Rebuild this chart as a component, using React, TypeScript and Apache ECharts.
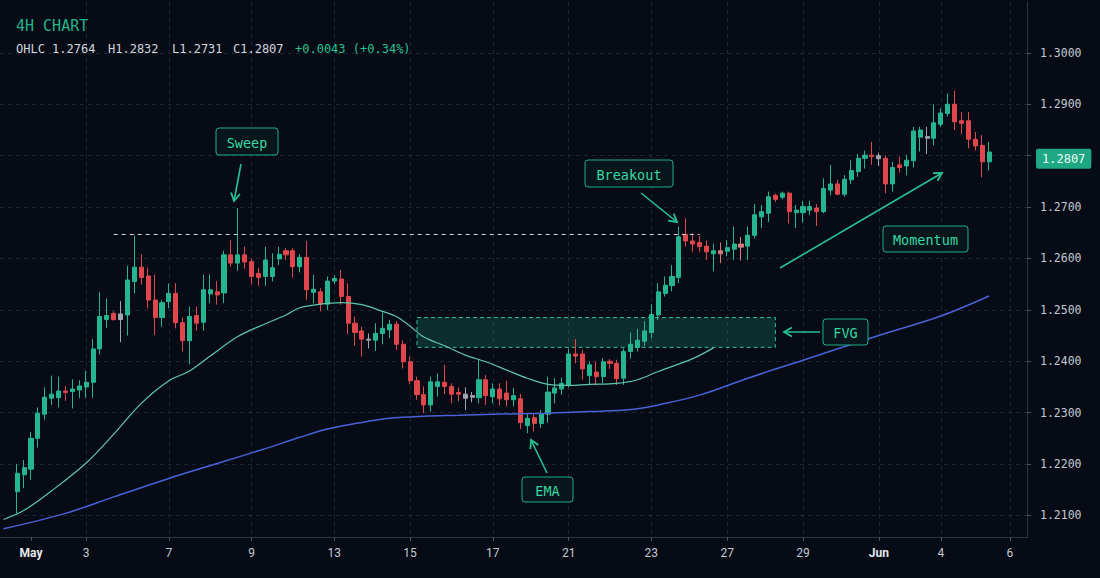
import React, { useEffect, useRef } from "react";
import * as echarts from "echarts";

// ---------- DATA ----------
const opens = [
  1.2146, 1.2179, 1.2190, 1.2250, 1.2297, 1.2328, 1.2329, 1.2342, 1.2341, 1.2344,
  1.2350, 1.2359, 1.2424, 1.2481, 1.2493, 1.2481, 1.2490, 1.2555, 1.2583, 1.2566,
  1.2519, 1.2485, 1.2516, 1.2532, 1.2475, 1.2440, 1.2489, 1.2476, 1.2531, 1.2535,
  1.2533, 1.2607, 1.2591, 1.2607, 1.2594, 1.2571, 1.2565, 1.2565, 1.2599, 1.2615,
  1.2615, 1.2584, 1.2602, 1.2534, 1.2535, 1.2511, 1.2556, 1.2560, 1.2526, 1.2474,
  1.2459, 1.2443, 1.2441, 1.2454, 1.2461, 1.2472, 1.2433, 1.2399, 1.2362, 1.2335,
  1.2315, 1.2351, 1.2359, 1.2351, 1.2339, 1.2336, 1.2330, 1.2329, 1.2364, 1.2331,
  1.2346, 1.2338, 1.2325, 1.2327, 1.2275, 1.2290, 1.2279, 1.2297, 1.2338, 1.2346,
  1.2353, 1.2414, 1.2414, 1.2372, 1.2379, 1.2370, 1.2400, 1.2396, 1.2367, 1.2419,
  1.2427, 1.2439, 1.2456, 1.2490, 1.2532, 1.2547, 1.2563, 1.2647, 1.2634, 1.2631,
  1.2624, 1.2609, 1.2615, 1.2614, 1.2618, 1.2628, 1.2624, 1.2645, 1.2681, 1.2688,
  1.2723, 1.2719, 1.2727, 1.2689, 1.2689, 1.2694, 1.2698, 1.2691, 1.2733, 1.2745,
  1.2725, 1.2753, 1.2769, 1.2795, 1.2801, 1.2800, 1.2795, 1.2745, 1.2782, 1.2780,
  1.2790, 1.2836, 1.2837, 1.2834, 1.2861, 1.2882, 1.2900, 1.2868, 1.2868, 1.2832,
  1.2820, 1.2788,
];
const closes = [
  1.2182, 1.2193, 1.2250, 1.2299, 1.2330, 1.2336, 1.2342, 1.2339, 1.2346, 1.2352,
  1.2359, 1.2424, 1.2487, 1.2489, 1.2481, 1.2492, 1.2558, 1.2583, 1.2563, 1.2519,
  1.2485, 1.2514, 1.2532, 1.2475, 1.2440, 1.2487, 1.2474, 1.2539, 1.2539, 1.2529,
  1.2607, 1.2591, 1.2607, 1.2593, 1.2565, 1.2563, 1.2597, 1.2582, 1.2608, 1.2607,
  1.2584, 1.2602, 1.2539, 1.2540, 1.2511, 1.2556, 1.2561, 1.2526, 1.2474, 1.2456,
  1.2443, 1.2441, 1.2454, 1.2464, 1.2472, 1.2433, 1.2399, 1.2362, 1.2335, 1.2315,
  1.2360, 1.2360, 1.2351, 1.2336, 1.2336, 1.2328, 1.2333, 1.2364, 1.2333, 1.2346,
  1.2327, 1.2325, 1.2333, 1.2281, 1.2289, 1.2279, 1.2297, 1.2340, 1.2348, 1.2357,
  1.2414, 1.2410, 1.2385, 1.2393, 1.2370, 1.2399, 1.2396, 1.2366, 1.2419, 1.2433,
  1.2441, 1.2459, 1.2491, 1.2535, 1.2548, 1.2565, 1.2642, 1.2634, 1.2628, 1.2623,
  1.2613, 1.2615, 1.2609, 1.2621, 1.2628, 1.2622, 1.2645, 1.2685, 1.2691, 1.2720,
  1.2715, 1.2727, 1.2691, 1.2694, 1.2701, 1.2701, 1.2691, 1.2736, 1.2745, 1.2725,
  1.2754, 1.2771, 1.2795, 1.2801, 1.2798, 1.2794, 1.2745, 1.2777, 1.2777, 1.2791,
  1.2848, 1.2850, 1.2834, 1.2864, 1.2883, 1.2900, 1.2866, 1.2863, 1.2832, 1.2819,
  1.2788, 1.2807,
];
const highs = [
  1.2200, 1.2208, 1.2262, 1.2310, 1.2349, 1.2372, 1.2370, 1.2352, 1.2365, 1.2363,
  1.2381, 1.2443, 1.2535, 1.2522, 1.2497, 1.2517, 1.2586, 1.2645, 1.2608, 1.2582,
  1.2568, 1.2519, 1.2551, 1.2552, 1.2485, 1.2506, 1.2506, 1.2568, 1.2569, 1.2556,
  1.2615, 1.2636, 1.2698, 1.2623, 1.2600, 1.2582, 1.2623, 1.2610, 1.2623, 1.2620,
  1.2620, 1.2608, 1.2634, 1.2568, 1.2542, 1.2565, 1.2567, 1.2578, 1.2552, 1.2487,
  1.2467, 1.2454, 1.2474, 1.2495, 1.2480, 1.2478, 1.2441, 1.2409, 1.2370, 1.2351,
  1.2370, 1.2376, 1.2393, 1.2357, 1.2349, 1.2349, 1.2340, 1.2404, 1.2373, 1.2357,
  1.2357, 1.2362, 1.2348, 1.2336, 1.2299, 1.2297, 1.2305, 1.2370, 1.2367, 1.2368,
  1.2425, 1.2443, 1.2422, 1.2400, 1.2400, 1.2406, 1.2404, 1.2403, 1.2425, 1.2456,
  1.2463, 1.2478, 1.2511, 1.2552, 1.2565, 1.2587, 1.2662, 1.2678, 1.2649, 1.2644,
  1.2635, 1.2629, 1.2631, 1.2636, 1.2662, 1.2642, 1.2662, 1.2706, 1.2704, 1.2730,
  1.2726, 1.2730, 1.2730, 1.2704, 1.2712, 1.2712, 1.2706, 1.2756, 1.2782, 1.2753,
  1.2762, 1.2791, 1.2803, 1.2810, 1.2827, 1.2806, 1.2801, 1.2788, 1.2798, 1.2801,
  1.2856, 1.2856, 1.2856, 1.2900, 1.2892, 1.2921, 1.2926, 1.2885, 1.2885, 1.2846,
  1.2840, 1.2827,
];
const lows = [
  1.2104, 1.2153, 1.2169, 1.2232, 1.2286, 1.2315, 1.2310, 1.2323, 1.2308, 1.2328,
  1.2329, 1.2329, 1.2413, 1.2465, 1.2479, 1.2437, 1.2450, 1.2532, 1.2549, 1.2503,
  1.2451, 1.2467, 1.2503, 1.2464, 1.2419, 1.2394, 1.2459, 1.2459, 1.2513, 1.2510,
  1.2513, 1.2584, 1.2576, 1.2580, 1.2550, 1.2547, 1.2547, 1.2555, 1.2587, 1.2597,
  1.2563, 1.2573, 1.2519, 1.2513, 1.2497, 1.2500, 1.2550, 1.2510, 1.2453, 1.2430,
  1.2409, 1.2425, 1.2420, 1.2433, 1.2445, 1.2422, 1.2386, 1.2355, 1.2325, 1.2299,
  1.2302, 1.2331, 1.2336, 1.2318, 1.2322, 1.2305, 1.2320, 1.2318, 1.2315, 1.2318,
  1.2314, 1.2312, 1.2312, 1.2268, 1.2260, 1.2263, 1.2270, 1.2280, 1.2318, 1.2335,
  1.2349, 1.2396, 1.2364, 1.2353, 1.2353, 1.2357, 1.2385, 1.2354, 1.2354, 1.2405,
  1.2419, 1.2430, 1.2445, 1.2480, 1.2526, 1.2536, 1.2552, 1.2623, 1.2613, 1.2613,
  1.2597, 1.2575, 1.2591, 1.2604, 1.2597, 1.2596, 1.2597, 1.2639, 1.2659, 1.2671,
  1.2710, 1.2715, 1.2668, 1.2659, 1.2670, 1.2684, 1.2663, 1.2688, 1.2723, 1.2723,
  1.2720, 1.2745, 1.2759, 1.2775, 1.2782, 1.2780, 1.2727, 1.2730, 1.2767, 1.2762,
  1.2777, 1.2808, 1.2803, 1.2820, 1.2856, 1.2876, 1.2850, 1.2842, 1.2814, 1.2810,
  1.2758, 1.2771,
];
// candles drawn in neutral grey / muted red
const greyCandles = [15, 51, 65, 66, 125, 132];
const mutedCandles = [102, 105];

// moving averages: [category index, value]
const emaFastIdx = [0, 3, 7, 12, 16, 20, 24, 27, 30, 34, 38, 41, 43, 46, 49, 52, 55, 57, 59, 61, 64, 67, 70, 73, 76, 79, 82, 85, 89, 92, 95, 100, 103];
const emaFastVal = [1.2092, 1.2110, 1.2148, 1.2202, 1.2258, 1.2318, 1.2362, 1.2381, 1.2410, 1.2448, 1.2473, 1.2490, 1.2504, 1.2511, 1.2514, 1.2510, 1.2497, 1.2487, 1.2468, 1.2447, 1.2430, 1.2412, 1.2399, 1.2383, 1.2367, 1.2355, 1.2353, 1.2355, 1.2357, 1.2364, 1.2380, 1.2405, 1.2426];
const emaSlowIdx = [0, 9, 16, 24, 31, 38, 43, 47, 52, 56, 61, 66, 71, 79, 85, 91, 95, 101, 108, 116, 127, 136, 143];
const emaSlowVal = [1.2074, 1.2104, 1.2136, 1.2172, 1.2201, 1.2230, 1.2252, 1.2268, 1.2281, 1.2289, 1.2293, 1.2295, 1.2297, 1.2299, 1.2302, 1.2306, 1.2315, 1.2334, 1.2367, 1.2402, 1.2450, 1.2488, 1.2527];

// x-axis date labels at category indices
const labelIdx = [4, 12, 24, 36, 48, 59, 71, 82, 94, 105, 116, 127, 136, 146];
const labelText = ["May", "3", "7", "9", "13", "15", "17", "21", "23", "27", "29", "Jun", "4", "6"];

// levels
const lastPrice = 1.2807;
const sweepLevel = 1.2647;
const sweepFrom = 16;
const sweepTo = 101;
const fvgTop = 1.2485;
const fvgBottom = 1.2427;
const fvgFrom = 60;
const fvgTo = 112;

const headerOHLC = ["OHLC 1.2764", "H1.2832", "L1.2731", "C1.2807"];
const headerChange = "+0.0043 (+0.34%)";

// ---------- STYLE ----------
const BG = "#060b16";
const UP = "#26b68f";
const DOWN = "#e0474c";
const GREY = "#a3a7ad";
const MUTED = "#d47a7e";
const ACC = "#27c293";
const ACC_TEXT = "#36d7a5";
const GRID = "#1c2533";
const AXIS = "#2d3542";
const MONO = '"DejaVu Sans Mono", "Liberation Mono", monospace';

const LEAD = 2;
const TRAIL = 5;

function box(x: number, y: number, w: number, h: number, label: string) {
  return {
    type: "group",
    z: 100,
    children: [
      {
        type: "rect",
        z: 100,
        shape: { x, y, width: w, height: h, r: 3 },
        style: { fill: "#07161a", stroke: "#1fae84", lineWidth: 1 },
      },
      {
        type: "text",
        z: 101,
        style: {
          text: label,
          x: x + w / 2,
          y: y + h / 2 + 1,
          align: "center",
          verticalAlign: "middle",
          textAlign: "center",
          textVerticalAlign: "middle",
          fill: ACC_TEXT,
          font: `13.5px ${MONO}`,
        },
      },
    ],
  };
}

function arrow(x1: number, y1: number, x2: number, y2: number) {
  const a = Math.atan2(y2 - y1, x2 - x1);
  const L = 9;
  const s = 0.52;
  const p1 = [x2 - L * Math.cos(a - s), y2 - L * Math.sin(a - s)];
  const p2 = [x2 - L * Math.cos(a + s), y2 - L * Math.sin(a + s)];
  return [
    { type: "line", z: 100, shape: { x1, y1, x2, y2 }, style: { stroke: ACC, lineWidth: 1.6 } },
    {
      type: "polyline",
      z: 100,
      shape: { points: [p1, [x2, y2], p2] },
      style: { stroke: ACC, lineWidth: 1.8, fill: null },
    },
  ];
}

export default function App() {
  const ref = useRef<HTMLDivElement>(null);

  useEffect(() => {
    document.body.style.margin = "0";
    document.body.style.background = BG;
    if (!ref.current) return;
    const chart = echarts.init(ref.current, undefined, { renderer: "svg" });

    const N = opens.length;
    const TOTAL = LEAD + N + TRAIL;
    const cats = Array.from({ length: TOTAL }, (_, i) => "c" + i);
    const labelMap: Record<number, string> = {};
    labelIdx.forEach((i, k) => (labelMap[i] = labelText[k]));
    const isLabel = (i: number) => labelMap[i] !== undefined;
    const isGridLine = (i: number) => isLabel(i) && labelMap[i] !== "May";

    const candleData = opens.map((o, k) => {
      const item: any = { value: [cats[LEAD + k], o, closes[k], lows[k], highs[k]] };
      if (greyCandles.includes(k)) {
        item.itemStyle = { color: GREY, color0: GREY, borderColor: GREY, borderColor0: GREY };
      } else if (mutedCandles.includes(k)) {
        item.itemStyle = { color: MUTED, color0: MUTED, borderColor: MUTED, borderColor0: MUTED };
      }
      return item;
    });

    const fast = emaFastIdx.map((i, k) => [cats[i], emaFastVal[k]]);
    const slow = emaSlowIdx.map((i, k) => [cats[i], emaSlowVal[k]]);

    const header: any[] = [
      {
        type: "text",
        z: 100,
        style: { text: "4H CHART", x: 16, y: 26, verticalAlign: "middle", textVerticalAlign: "middle", fill: "#22b48b", font: `15px ${MONO}` },
      },
    ];
    const hx = [16, 108, 172, 233];
    headerOHLC.forEach((t, k) =>
      header.push({
        type: "text",
        z: 100,
        style: { text: t, x: hx[k], y: 49, verticalAlign: "middle", textVerticalAlign: "middle", fill: "#d3d7de", font: `12px ${MONO}` },
      })
    );
    header.push({
      type: "text",
      z: 100,
      style: { text: headerChange, x: 295, y: 49, verticalAlign: "middle", textVerticalAlign: "middle", fill: "#28c08f", font: `12px ${MONO}` },
    });

    const annotations: any[] = [
      box(216, 128, 62, 27, "Sweep"),
      ...arrow(241, 164, 234, 201),
      box(585, 160, 88, 27, "Breakout"),
      ...arrow(641, 193, 677, 222),
      box(883, 226, 85, 26, "Momentum"),
      ...arrow(780, 268, 942, 173),
      box(823, 319, 45, 26, "FVG"),
      ...arrow(820, 332, 784, 332),
      box(522, 477, 51, 25, "EMA"),
      ...arrow(547, 473, 531, 440),
    ];

    chart.setOption({
      animation: false,
      backgroundColor: BG,
      grid: { left: 0, right: 73, top: 2, bottom: 41, containLabel: false },
      xAxis: {
        type: "category",
        data: cats,
        boundaryGap: true,
        axisLine: { show: true, lineStyle: { color: AXIS, width: 1 } },
        axisTick: {
          show: true,
          alignWithLabel: true,
          interval: (i: number) => isLabel(i),
          length: 4,
          lineStyle: { color: "#4a5260" },
        },
        axisLabel: {
          interval: (i: number) => isLabel(i),
          formatter: (_v: string, i: number) => {
            const t = labelMap[i] || "";
            return t === "May" || t === "Jun" ? `{b|${t}}` : t;
          },
          color: "#c3c8d0",
          fontFamily: "Roboto, sans-serif",
          fontSize: 12,
          margin: 10,
          rich: { b: { fontWeight: "bold", color: "#e4e7ec", fontFamily: "Roboto, sans-serif", fontSize: 12 } },
        },
        splitLine: {
          show: true,
          alignWithLabel: true,
          interval: (i: number) => isGridLine(i),
          lineStyle: { color: GRID, type: [4, 4], width: 1 },
        },
      },
      yAxis: {
        type: "value",
        position: "right",
        min: 1.2058,
        max: 1.3099,
        splitNumber: 10,
        scale: true,
        axisLine: { show: true, lineStyle: { color: AXIS, width: 1 } },
        axisTick: { show: true, length: 4, lineStyle: { color: "#4a5260" } },
        axisLabel: {
          showMinLabel: false,
          showMaxLabel: false,
          margin: 13,
          color: "#c3c8d0",
          fontFamily: MONO,
          fontSize: 11.5,
          formatter: (v: number) => {
            if (v < 1.2095 || v > 1.3005) return "";
            if (Math.abs(v - 1.28) < 1e-6) return "";
            return v.toFixed(4);
          },
        },
        splitLine: {
          show: true,
          showMinLine: false,
          showMaxLine: false,
          lineStyle: { color: GRID, type: [4, 4], width: 1 },
        },
      },
      series: [
        {
          type: "candlestick",
          name: "4H",
          data: candleData,
          encode: { x: 0, y: [1, 2, 3, 4] },
          barWidth: 4.6,
          itemStyle: { color: UP, color0: DOWN, borderColor: UP, borderColor0: DOWN, borderWidth: 1 },
          markArea: {
            silent: true,
            data: [
              [
                {
                  coord: [cats[fvgFrom], fvgTop],
                  itemStyle: {
                    color: "rgba(38, 190, 150, 0.20)",
                    borderColor: "#2dbf95",
                    borderWidth: 1,
                    borderType: [4, 3],
                  },
                },
                { coord: [cats[fvgTo], fvgBottom] },
              ],
            ],
          },
          markLine: {
            silent: true,
            symbol: ["none", "none"],
            data: [
              [
                {
                  coord: [cats[sweepFrom], sweepLevel],
                  lineStyle: { color: "#cfd3da", type: [4, 4], width: 1 },
                  label: { show: false },
                },
                { coord: [cats[sweepTo], sweepLevel] },
              ],
            ],
          },
          z: 3,
        },
        {
          type: "line",
          name: "Last",
          data: [],
          showSymbol: false,
          markLine: {
            silent: true,
            symbol: ["none", "none"],
            lineStyle: { color: "rgba(0,0,0,0)", width: 1 },
            label: {
              show: true,
              position: "end",
              distance: 9,
              offset: [0, 3],
              formatter: lastPrice.toFixed(4),
              backgroundColor: "#1fa682",
              color: "#eafff7",
              padding: [4, 6, 4, 6],
              borderRadius: 2,
              fontFamily: MONO,
              fontSize: 12,
            },
            data: [{ yAxis: lastPrice }],
          },
          z: 5,
        },
        {
          type: "line",
          name: "EMA fast",
          data: fast,
          smooth: 0.35,
          showSymbol: false,
          lineStyle: { color: "#5fc6a8", width: 1.2 },
          z: 4,
        },
        {
          type: "line",
          name: "EMA slow",
          data: slow,
          smooth: 0.35,
          showSymbol: false,
          lineStyle: { color: "#4a62d8", width: 1.5 },
          z: 4,
        },
      ],
      graphic: [...header, ...annotations],
    });

    return () => chart.dispose();
  }, []);

  return (
    <div
      ref={ref}
      style={{ position: "fixed", left: 0, top: 0, width: 1100, height: 578, background: BG }}
    />
  );
}
